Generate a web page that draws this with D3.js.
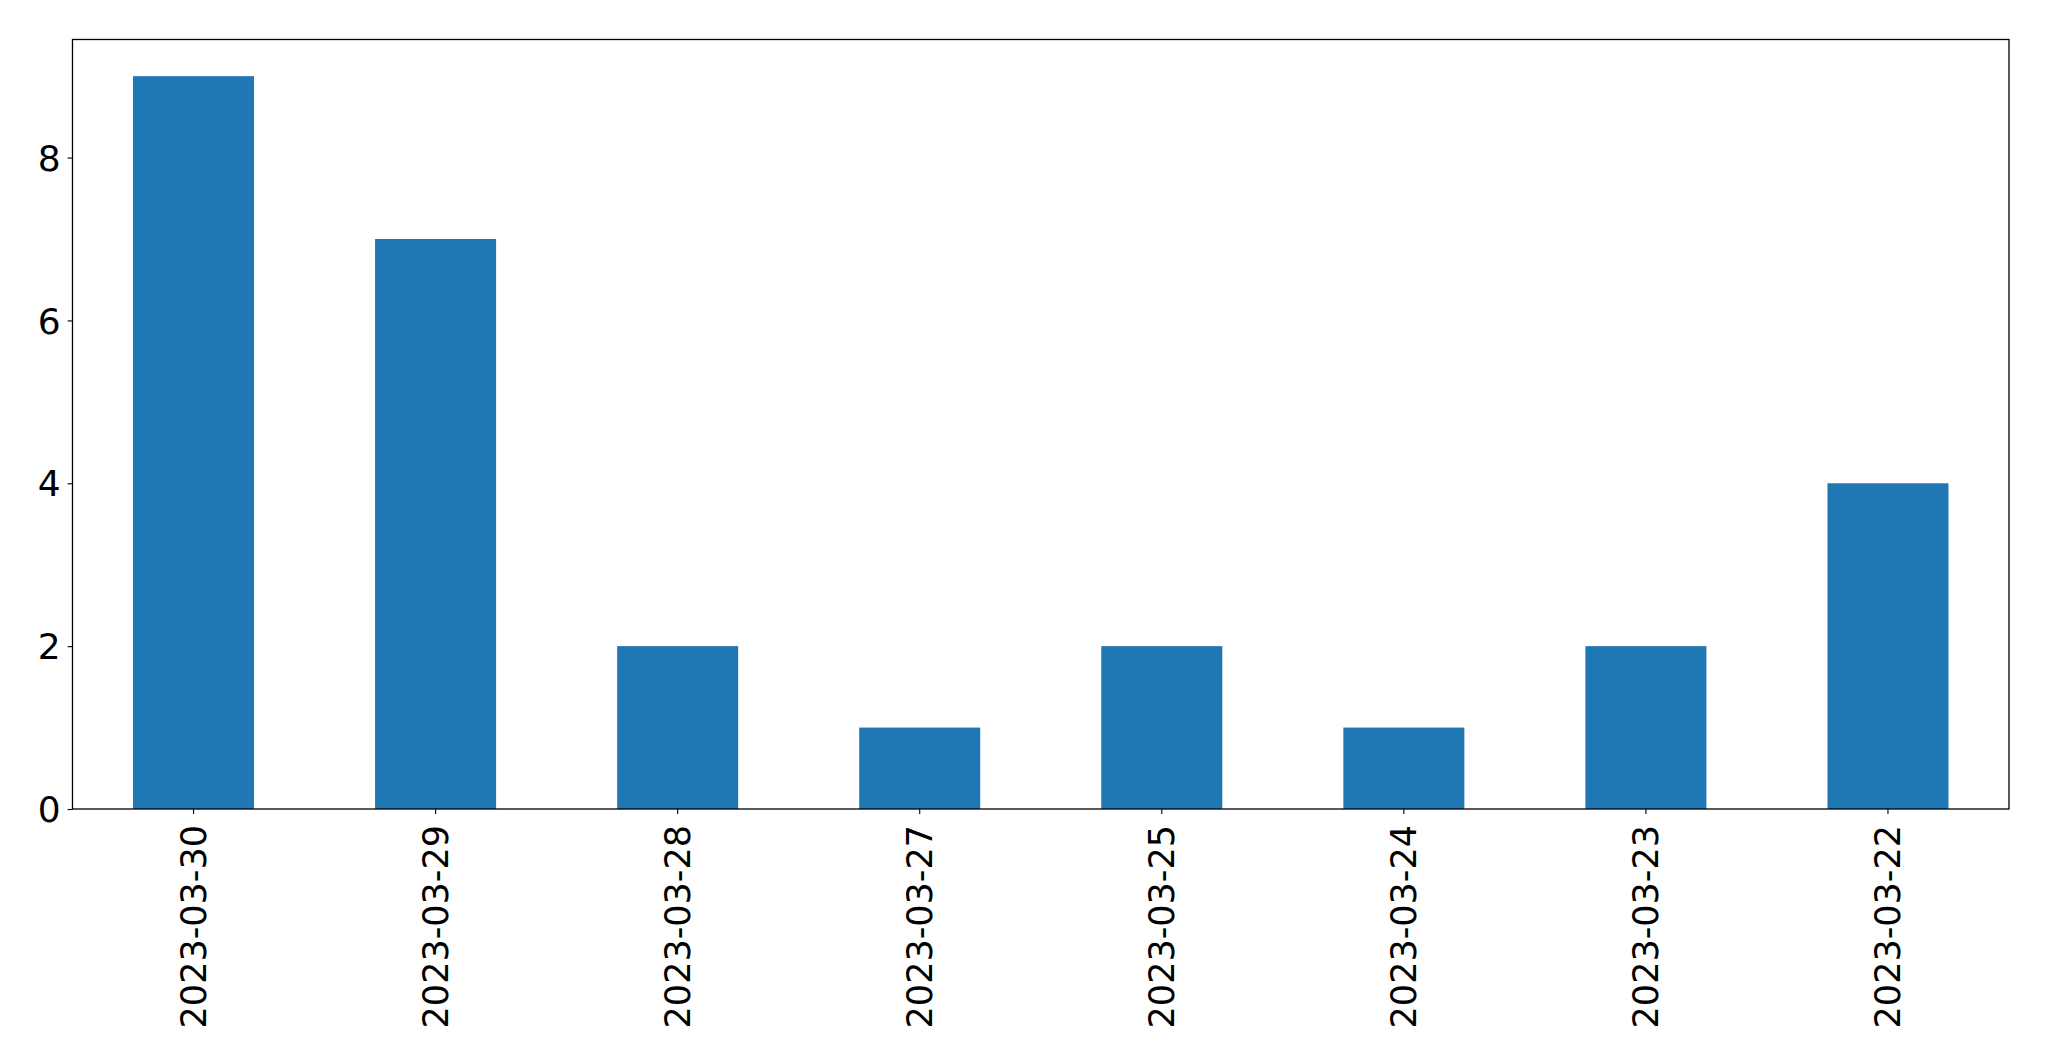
<!DOCTYPE html>
<html><head><meta charset="utf-8">
<script src="https://cdn.jsdelivr.net/npm/d3@7"></script>
<style>body{margin:0;background:#fff;} svg{display:block;} text{font-family:"DejaVu Sans","DejaVu Sans Book",sans-serif;}</style>
</head><body>
<svg id="chart" width="2049" height="1061"></svg>
<script>
const categories = ["2023-03-30","2023-03-29","2023-03-28","2023-03-27","2023-03-25","2023-03-24","2023-03-23","2023-03-22"];
const values = [9, 7, 2, 1, 2, 1, 2, 4];
const yTicks = [0, 2, 4, 6, 8];

const svg = d3.select("#chart");
const L = 72.5, R = 2009, T = 39.5, B = 809;
const x = d3.scaleBand().domain(categories).range([L, R]).paddingInner(0.5).paddingOuter(0.25);
const y = d3.scaleLinear().domain([0, 9.45]).range([B, T]);
const font = "'DejaVu Sans', sans-serif";

svg.append("g").selectAll("rect").data(values).join("rect")
  .attr("x", (d, i) => x(categories[i]))
  .attr("y", d => y(d))
  .attr("width", x.bandwidth())
  .attr("height", d => B - y(d))
  .attr("fill", "#1f77b4");

const yAxis = svg.append("g").attr("transform", `translate(${L},0)`)
  .call(d3.axisLeft(y).tickValues(yTicks).tickFormat(d3.format("d")).tickSize(4.9).tickPadding(7));
yAxis.attr("font-family", null).attr("font-size", null);
yAxis.select(".domain").remove();
yAxis.selectAll("line").attr("stroke", "#000").attr("stroke-width", 1.1);
yAxis.selectAll("text").style("font-family", font).style("font-size", "36px").attr("fill", "#000").attr("dy", "0.35em");

const xAxis = svg.append("g").attr("transform", `translate(0,${B})`)
  .call(d3.axisBottom(x).tickSize(4.9).tickPadding(0));
xAxis.attr("font-family", null).attr("font-size", null);
xAxis.select(".domain").remove();
xAxis.selectAll("line").attr("stroke", "#000").attr("stroke-width", 1.1);
xAxis.selectAll("text")
  .style("font-family", font).style("font-size", "35px").attr("fill", "#000")
  .attr("transform", "translate(0,16) rotate(-90)")
  .attr("text-anchor", "end").attr("x", 0).attr("y", 0).attr("dy", "0.35em");

svg.append("rect").attr("x", L).attr("y", T).attr("width", R - L).attr("height", B - T)
  .attr("fill", "none").attr("stroke", "#000").attr("stroke-width", 1.3);
</script>
</body></html>
